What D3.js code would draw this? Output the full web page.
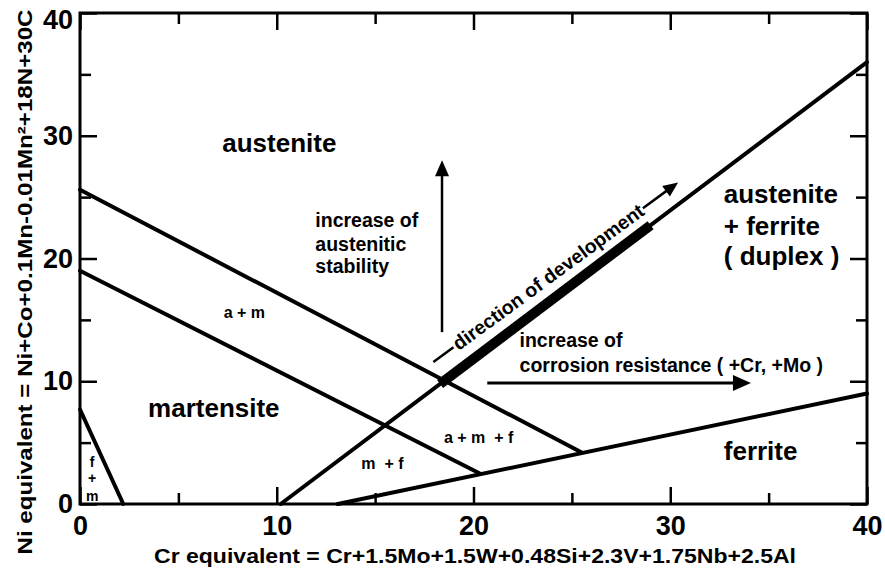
<!DOCTYPE html>
<html>
<head>
<meta charset="utf-8">
<script src="https://cdn.jsdelivr.net/npm/d3@7/dist/d3.min.js"></script>
<style>
  html, body { margin: 0; padding: 0; background: #fff; }
  svg { display: block; font-family: "Liberation Sans", Arial, Helvetica, sans-serif; }
  text { white-space: pre; }
</style>
</head>
<body>
<svg id="chart" width="885" height="572"></svg>
<script>
// constitution diagram (Cr eq vs Ni eq) — fases + setas de tendência

const crTicks = [0, 5, 10, 15, 20, 25, 30, 35, 40];
const niTicks = [0, 5, 10, 15, 20, 25, 30, 35, 40];
const majorTicks = [0, 10, 20, 30, 40];

// limites de fase: [Cr eq, Ni eq]
const austeniteLimit = [[0, 25.6], [25.5, 4.2]];
const martensiteLimit = [[0, 19.0], [20.3, 2.5]];
const ferriteLimit = [[13.1, 0], [40, 9.0]];
const duplexLimit = [[10.2, 0], [40, 36.0]];
const fmLimit = [[0, 7.7], [2.2, 0]];
const developmentBand = [18.3, 29.0];   // trecho grosso sobre duplexLimit (Cr eq)

// setas
const stabilityArrow = [[18.4, 14.0], [18.4, 28.0]];
const corrosionArrow = [[20.7, 9.86], [34.1, 9.86]];
const developmentArrow = [[17.96, 11.57], [30.4, 26.2]];

// rótulos das regiões
const regionNames = ['austenite', 'martensite', 'ferrite'];
const regionPos = [[7.23, 28.68], [3.46, 7.09], [32.72, 3.58]];
const duplexLines = ['austenite', '+ ferrite', '( duplex )'];
const duplexPos = [[32.72, 24.52], [32.72, 21.91], [32.72, 19.47]];
const mixNames = ['a + m', 'a + m  + f', 'm  + f'];
const mixPos = [[7.3, 15.15], [18.5, 4.97], [14.3, 2.85]];
const fmLines = ['f', '+', 'm'];
const fmPos = [[0.62, 3.01], [0.62, 1.71], [0.62, 0.24]];
const stabilityLines = ['increase of', 'austenitic', 'stability'];
const stabilityPos = [[11.96, 22.57], [11.96, 20.61], [11.96, 18.82]];
const corrosionLines = ['increase of', 'corrosion resistance ( +Cr, +Mo )'];
const corrosionPos = [[22.34, 12.79], [22.34, 10.75]];

const W = 885, H = 572;
const x = d3.scaleLinear().domain([0, 40]).range([80, 867]);
const y = d3.scaleLinear().domain([0, 40]).range([504, 13]);

const svg = d3.select('#chart');
svg.append('rect').attr('width', W).attr('height', H).attr('fill', '#fff');

const line = d3.line().x((d) => x(d[0])).y((d) => y(d[1]));

// eixos — ticks para dentro, maiores a cada 10
function styleAxis(g, sign) {
  g.select('.domain').remove();
  g.selectAll('.tick line')
    .attr('stroke', '#000').attr('stroke-width', 2.5)
    .each(function (d) {
      const len = majorTicks.includes(d) ? 17 : 11;
      const sel = d3.select(this);
      if (sel.attr('x2') != null && +sel.attr('x2') !== 0) sel.attr('x2', sign * len);
      else sel.attr('y2', sign * len);
    });
  g.selectAll('.tick text')
    .attr('font-family', '"Liberation Sans", Arial, sans-serif')
    .attr('font-size', 27).attr('font-weight', 'bold').attr('fill', '#000');
}
const fmt = (d) => (d % 10 ? '' : d);

svg.append('g').attr('transform', `translate(0,${y(0)})`)
  .call(d3.axisBottom(x).tickValues(crTicks).tickSizeInner(-17).tickSizeOuter(0).tickPadding(12).tickFormat(fmt))
  .call((g) => styleAxis(g, -1));
svg.append('g').attr('transform', `translate(0,${y(40)})`)
  .call(d3.axisTop(x).tickValues(crTicks).tickSizeInner(-17).tickSizeOuter(0).tickFormat(''))
  .call((g) => styleAxis(g, 1));
svg.append('g').attr('transform', `translate(${x(0)},0)`)
  .call(d3.axisLeft(y).tickValues(niTicks).tickSizeInner(-17).tickSizeOuter(0).tickPadding(7).tickFormat(fmt))
  .call((g) => styleAxis(g, 1))
  // o "40" do topo desce um pouco para não cortar
  .call((g) => g.selectAll('.tick text').filter((d) => d === 40).attr('dy', '0.58em'));
svg.append('g').attr('transform', `translate(${x(40)},0)`)
  .call(d3.axisRight(y).tickValues(niTicks).tickSizeInner(-17).tickSizeOuter(0).tickFormat(''))
  .call((g) => styleAxis(g, -1));

// moldura
svg.append('rect')
  .attr('x', x(0)).attr('y', y(40))
  .attr('width', x(40) - x(0)).attr('height', y(0) - y(40))
  .attr('fill', 'none').attr('stroke', '#000').attr('stroke-width', 3);

// limites de fase
[austeniteLimit, martensiteLimit, ferriteLimit, duplexLimit, fmLimit].forEach((seg) => {
  svg.append('path').attr('d', line(seg))
    .attr('fill', 'none').attr('stroke', '#000').attr('stroke-width', 4).attr('stroke-linecap', 'round');
});

// trecho grosso (direção de desenvolvimento)
const duplexAt = (cr) => duplexLimit[0][1] + (cr - duplexLimit[0][0]) *
  (duplexLimit[1][1] - duplexLimit[0][1]) / (duplexLimit[1][0] - duplexLimit[0][0]);
svg.append('path')
  .attr('d', line(developmentBand.map((c) => [c, duplexAt(c)])))
  .attr('stroke', '#000').attr('stroke-width', 10);

// setas
function arrowHead(tip, ang, len, wid) {
  const ux = Math.cos(ang), uy = Math.sin(ang);
  const bx = tip[0] - ux * len, by = tip[1] - uy * len;
  const px = -uy * wid / 2, py = ux * wid / 2;
  svg.append('path')
    .attr('d', `M${tip[0]},${tip[1]}L${bx + px},${by + py}L${bx - px},${by - py}Z`)
    .attr('fill', '#000');
}
function arrow(a, b, sw, len, wid) {
  const p0 = [x(a[0]), y(a[1])], p1 = [x(b[0]), y(b[1])];
  const ang = Math.atan2(p1[1] - p0[1], p1[0] - p0[0]);
  svg.append('line')
    .attr('x1', p0[0]).attr('y1', p0[1])
    .attr('x2', p1[0] - Math.cos(ang) * len * 0.6).attr('y2', p1[1] - Math.sin(ang) * len * 0.6)
    .attr('stroke', '#000').attr('stroke-width', sw);
  arrowHead(p1, ang, len, wid);
}
arrow(stabilityArrow[0], stabilityArrow[1], 2.5, 16, 14);
arrow(corrosionArrow[0], corrosionArrow[1], 3, 18, 16);

// seta "direction of development" com texto no meio
(function () {
  const S = [x(developmentArrow[0][0]), y(developmentArrow[0][1])];
  const T = [x(developmentArrow[1][0]), y(developmentArrow[1][1])];
  const ang = Math.atan2(T[1] - S[1], T[0] - S[0]);
  const ux = Math.cos(ang), uy = Math.sin(ang);
  const d0 = 27;
  const t = svg.append('text')
    .attr('transform', `translate(${S[0] + ux * d0},${S[1] + uy * d0}) rotate(${ang * 180 / Math.PI})`)
    .attr('dy', '0.32em')
    .attr('font-size', 19.5).attr('font-weight', 'bold')
    .text('direction of development');
  const L = t.node().getComputedTextLength();
  svg.append('line')
    .attr('x1', S[0]).attr('y1', S[1])
    .attr('x2', S[0] + ux * (d0 - 2)).attr('y2', S[1] + uy * (d0 - 2))
    .attr('stroke', '#000').attr('stroke-width', 2.5);
  const a2 = [S[0] + ux * (d0 + L + 1), S[1] + uy * (d0 + L + 1)];
  svg.append('line')
    .attr('x1', a2[0]).attr('y1', a2[1])
    .attr('x2', T[0] - ux * 8).attr('y2', T[1] - uy * 8)
    .attr('stroke', '#000').attr('stroke-width', 2.5);
  arrowHead(T, ang, 15, 13);
})();

// rótulos
function labels(names, pos, size, weight, anchor) {
  svg.append('g').selectAll('text').data(names).join('text')
    .attr('x', (d, i) => x(pos[i][0])).attr('y', (d, i) => y(pos[i][1]))
    .attr('font-size', size).attr('font-weight', weight)
    .attr('text-anchor', anchor || 'start').attr('fill', '#000')
    .text((d) => d);
}
labels(regionNames, regionPos, 26, 'bold');
labels(duplexLines, duplexPos, 26, 'bold');
labels(stabilityLines, stabilityPos, 19.5, 'bold');
labels(corrosionLines, corrosionPos, 19.5, 'bold');
labels(mixNames, mixPos, 16, 'bold');
labels(fmLines, fmPos, 14, 'bold', 'middle');

// títulos dos eixos
svg.append('text')
  .attr('x', 475).attr('y', 563).attr('text-anchor', 'middle')
  .attr('font-size', 20).attr('font-weight', 'bold')
  .attr('textLength', 642).attr('lengthAdjust', 'spacingAndGlyphs')
  .text('Cr equivalent = Cr+1.5Mo+1.5W+0.48Si+2.3V+1.75Nb+2.5Al');
svg.append('text')
  .attr('transform', 'translate(32,282) rotate(-90)').attr('text-anchor', 'middle')
  .attr('font-size', 20).attr('font-weight', 'bold')
  .attr('textLength', 545).attr('lengthAdjust', 'spacingAndGlyphs')
  .text('Ni equivalent = Ni+Co+0.1Mn-0.01Mn²+18N+30C');
</script>
</body>
</html>
